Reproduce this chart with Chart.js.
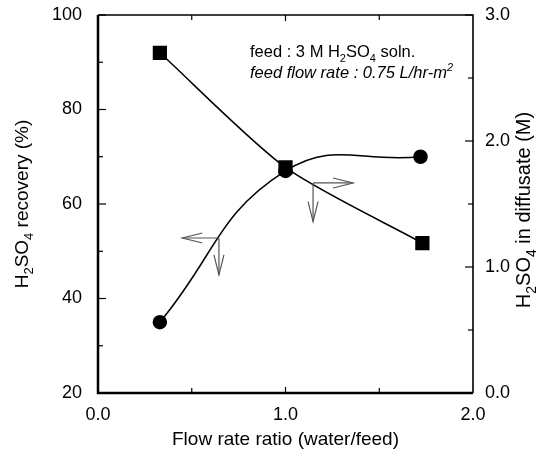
<!DOCTYPE html>
<html>
<head>
<meta charset="utf-8">
<script src="https://cdn.jsdelivr.net/npm/chart.js@4.4.1/dist/chart.umd.min.js"></script>
<style>
  html, body { margin: 0; padding: 0; background: #fff; }
  #wrap { width: 540px; height: 454px; }
</style>
</head>
<body>
<div id="wrap"><canvas id="myChart" width="540" height="454"></canvas></div>
<script>
// recovery (left axis, circles) and acid strength in diffusate (right axis, squares)
const flowRatio = [0.33, 1.0, 1.72];
const recovery = [35, 67, 70];
const diffRatio = [0.33, 1.0, 1.73];
const diffusateM = [2.70, 1.79, 1.19];

const xTicks = [0.0, 1.0, 2.0];
const leftTicks = [20, 40, 60, 80, 100];
const rightTicks = [0.0, 1.0, 2.0, 3.0];

// pointer arrows: which curve goes with which axis
const arrows = [
    { axis: 'yL', x: 0.645, y: 52.8, toX: 0.45, toY: 45.0 },
    { axis: 'yR', x: 1.147, y: 1.667, toX: 1.36, toY: 1.36 }
];

const FONT = '"Liberation Sans", Arial, Helvetica, sans-serif';
const ctx = document.getElementById('myChart').getContext('2d');

// draw a run of text pieces; piece = [text, 'sub'|'sup'|null]
function richText(c, parts, x, y, size, style, align) {
    const big = style + ' ' + size + 'px ' + FONT;
    const small = style + ' ' + Math.round(size * 0.68) + 'px ' + FONT;
    let w = 0;
    parts.forEach(p => {
        c.font = p[1] ? small : big;
        w += c.measureText(p[0]).width;
    });
    let cx = align === 'center' ? x - w / 2 : x;
    c.textAlign = 'left';
    c.textBaseline = 'alphabetic';
    parts.forEach(p => {
        c.font = p[1] ? small : big;
        let dy = 0;
        if (p[1] === 'sub') dy = size * 0.28;
        if (p[1] === 'sup') dy = -size * 0.4;
        c.fillText(p[0], cx, y + dy);
        cx += c.measureText(p[0]).width;
    });
}

function arrowHead(c, x, y, dx, dy) {
    const len = 20, half = 5;
    const px = -dy, py = dx;
    c.beginPath();
    c.moveTo(x - dx * len + px * half, y - dy * len + py * half);
    c.lineTo(x, y);
    c.lineTo(x - dx * len - px * half, y - dy * len - py * half);
    c.stroke();
}

const framePlugin = {
    id: 'frame',
    afterDraw(chart) {
        const c = chart.ctx;
        const a = chart.chartArea;
        const sx = chart.scales.x, sl = chart.scales.yL, sr = chart.scales.yR;
        c.save();
        c.strokeStyle = '#000';
        c.fillStyle = '#000';

        // box
        c.lineWidth = 2.5;
        c.beginPath();
        c.moveTo(a.left, a.top);
        c.lineTo(a.left, a.bottom);
        c.lineTo(a.right, a.bottom);
        c.stroke();
        c.lineWidth = 1.6;
        c.beginPath();
        c.moveTo(a.left, a.top);
        c.lineTo(a.right, a.top);
        c.lineTo(a.right, a.bottom);
        c.stroke();

        // inward ticks
        c.lineWidth = 1.2;
        for (let v = 20; v <= 100; v += 10) {
            const y = sl.getPixelForValue(v);
            const len = v % 20 === 0 ? 8 : 5;
            c.beginPath(); c.moveTo(a.left, y); c.lineTo(a.left + len, y); c.stroke();
        }
        for (let v = 0; v <= 3; v += 0.5) {
            const y = sr.getPixelForValue(v);
            const len = Number.isInteger(v) ? 8 : 5;
            c.beginPath(); c.moveTo(a.right, y); c.lineTo(a.right - len, y); c.stroke();
        }
        for (let v = 0.5; v < 2; v += 0.5) {
            const x = sx.getPixelForValue(v);
            const len = Number.isInteger(v) ? 6 : 5;
            c.beginPath(); c.moveTo(x, a.bottom); c.lineTo(x, a.bottom - len); c.stroke();
            c.beginPath(); c.moveTo(x, a.top); c.lineTo(x, a.top + len); c.stroke();
        }

        // arrows
        c.strokeStyle = '#555';
        c.lineWidth = 1.2;
        arrows.forEach(ar => {
            const sy = chart.scales[ar.axis];
            const x0 = sx.getPixelForValue(ar.x), y0 = sy.getPixelForValue(ar.y);
            const x1 = sx.getPixelForValue(ar.toX), y1 = sy.getPixelForValue(ar.toY);
            c.beginPath(); c.moveTo(x0, y0); c.lineTo(x1, y0); c.stroke();
            arrowHead(c, x1, y0, Math.sign(x1 - x0), 0);
            c.beginPath(); c.moveTo(x0, y0); c.lineTo(x0, y1); c.stroke();
            arrowHead(c, x0, y1, 0, Math.sign(y1 - y0));
        });

        // notes
        c.fillStyle = '#000';
        richText(c, [['feed : 3 M H', null], ['2', 'sub'], ['SO', null], ['4', 'sub'], [' soln.', null]],
            250, 57, 16.5, 'normal', 'left');
        richText(c, [['feed flow rate : 0.75 L/hr-m', null], ['2', 'sup']],
            250, 78, 16.5, 'italic', 'left');

        // axis titles
        c.save();
        c.translate(28, 204);
        c.rotate(-Math.PI / 2);
        richText(c, [['H', null], ['2', 'sub'], ['SO', null], ['4', 'sub'], [' recovery (%)', null]],
            0, 0, 19, 'normal', 'center');
        c.restore();
        c.save();
        c.translate(530, 210);
        c.rotate(-Math.PI / 2);
        richText(c, [['H', null], ['2', 'sub'], ['SO', null], ['4', 'sub'], [' in diffusate (M)', null]],
            0, 0, 20, 'normal', 'center');
        c.restore();
        richText(c, [['Flow rate ratio (water/feed)', null]], (a.left + a.right) / 2, 445, 19, 'normal', 'center');

        c.restore();
    }
};

const tickFont = { family: FONT, size: 18 };
const yTickFont = { family: FONT, size: 18, lineHeight: 1 };

const myChart = new Chart(ctx, {
    type: 'line',
    data: {
        datasets: [{
            label: 'recovery',
            data: flowRatio.map((x, i) => ({ x: x, y: recovery[i] })),
            yAxisID: 'yL',
            borderColor: '#000',
            backgroundColor: '#000',
            borderWidth: 1.5,
            pointStyle: 'circle',
            pointRadius: 6.5,
            tension: 0.45
        }, {
            label: 'diffusate',
            data: diffRatio.map((x, i) => ({ x: x, y: diffusateM[i] })),
            yAxisID: 'yR',
            borderColor: '#000',
            backgroundColor: '#000',
            borderWidth: 1.5,
            pointStyle: 'rect',
            pointRadius: 9,
            tension: 0.25
        }]
    },
    options: {
        responsive: false,
        animation: false,
        layout: { padding: { top: 15, left: 0, right: 0, bottom: 0 } },
        plugins: {
            legend: { display: false },
            tooltip: { enabled: false }
        },
        scales: {
            x: {
                type: 'linear',
                min: 0, max: 2,
                grid: { display: false },
                border: { display: false },
                afterBuildTicks: s => { s.ticks = xTicks.map(v => ({ value: v })); },
                afterFit: s => { s.height = 61; },
                ticks: {
                    color: '#000', font: tickFont, padding: 3, maxRotation: 0,
                    callback: v => v.toFixed(1)
                }
            },
            yL: {
                type: 'linear',
                position: 'left',
                min: 20, max: 100,
                grid: { display: false },
                border: { display: false },
                afterBuildTicks: s => { s.ticks = leftTicks.map(v => ({ value: v })); },
                afterFit: s => { s.width = 98; s.paddingTop = 0; s.paddingBottom = 0; },
                ticks: { color: '#000', font: yTickFont, padding: 8 }
            },
            yR: {
                type: 'linear',
                position: 'right',
                min: 0, max: 3,
                grid: { display: false },
                border: { display: false },
                afterBuildTicks: s => { s.ticks = rightTicks.map(v => ({ value: v })); },
                afterFit: s => { s.width = 67; s.paddingTop = 0; s.paddingBottom = 0; },
                ticks: {
                    color: '#000', font: yTickFont, padding: 4,
                    callback: v => v.toFixed(1)
                }
            }
        }
    },
    plugins: [framePlugin]
});
</script>
</body>
</html>
